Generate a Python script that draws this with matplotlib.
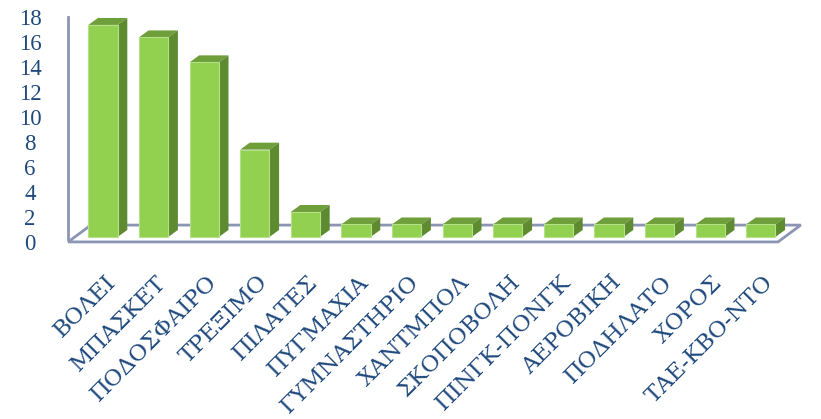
#! /usr/bin/env python3

import numpy as np
from matplotlib import pyplot as plt
from matplotlib.patches import Polygon
from matplotlib.transforms import ScaledTranslation

sports = ["ΒΟΛΕΙ", "ΜΠΑΣΚΕΤ", "ΠΟΔΟΣΦΑΙΡΟ", "ΤΡΕΞΙΜΟ", "ΠΙΛΑΤΕΣ",
          "ΠΥΓΜΑΧΙΑ", "ΓΥΜΝΑΣΤΗΡΙΟ", "ΧΑΝΤΜΠΟΛ", "ΣΚΟΠΟΒΟΛΗ",
          "ΠΙΝΓΚ-ΠΟΝΓΚ", "ΑΕΡΟΒΙΚΗ", "ΠΟΔΗΛΑΤΟ", "ΧΟΡΟΣ", "ΤΑΕ-ΚΒΟ-ΝΤΟ"]
counts = [17, 16, 14, 7, 2, 1, 1, 1, 1, 1, 1, 1, 1, 1]
yticks = [0, 2, 4, 6, 8, 10, 12, 14, 16, 18]

FRONT = "#92d050"
TOP   = "#6f9f3a"
SIDE  = "#5e8a30"
EDGE  = "#b5e08a"
AXIS  = "#8c96b4"
TEXT  = "#1f497d"

def main():

    fig = plt.figure(figsize = (8.21, 4.19), dpi = 100)
    ax = fig.add_axes([0, 0, 1, 1])
    ax.set_xlim(-2.036, 14.19)
    ax.set_ylim(-14.6, 19.0)
    ax.set_axis_off()

    x = np.arange(len(sports))
    width = 0.58
    ddx, ddy = 0.19, 0.56      # depth offset of the bar boxes
    fdx, fdy = 0.45, 1.35      # depth offset of the floor

    # floor and left wall
    x0, x1, y0 = -0.69, 13.34, -0.4
    floor = [(x0, y0), (x1, y0), (x1 + fdx, y0 + fdy), (x0 + fdx, y0 + fdy)]
    ax.add_patch(Polygon(floor, closed = True, fill = False,
                         edgecolor = AXIS, lw = 2, zorder = 1))
    ax.plot([x0, x0], [y0 + 0.2, 17.6], color = AXIS, lw = 2, zorder = 1)

    # front faces
    ax.bar(x, counts, width = width, color = FRONT, edgecolor = EDGE,
           linewidth = 0.8, zorder = 3)

    # top and side faces
    for xi, v in zip(x, counts):
        l, r = xi - width / 2, xi + width / 2
        top = [(l, v), (r, v), (r + ddx, v + ddy), (l + ddx, v + ddy)]
        side = [(r, 0), (r + ddx, ddy), (r + ddx, v + ddy), (r, v)]
        ax.add_patch(Polygon(top, closed = True, facecolor = TOP,
                             edgecolor = "none", zorder = 2))
        ax.add_patch(Polygon(side, closed = True, facecolor = SIDE,
                             edgecolor = "none", zorder = 2))

    # value axis labels sit a little below the bar scale
    shift = ScaledTranslation(0, -7.5 / 100, fig.dpi_scale_trans)
    for t in yticks:
        ax.text(-1.44, t, str(t), ha = "center", va = "center",
                fontsize = 16.5, family = "Liberation Serif", color = TEXT,
                transform = ax.transData + shift)

    # category labels
    for xi, name in zip(x, sports):
        ax.text(xi + 0.03, -2.75, name, ha = "right", va = "top",
                rotation = 45, rotation_mode = "anchor", fontsize = 16.5,
                family = "DejaVu Serif", color = TEXT)

    fig.savefig("out.png", dpi = 100)

if __name__ == "__main__":
    main()
